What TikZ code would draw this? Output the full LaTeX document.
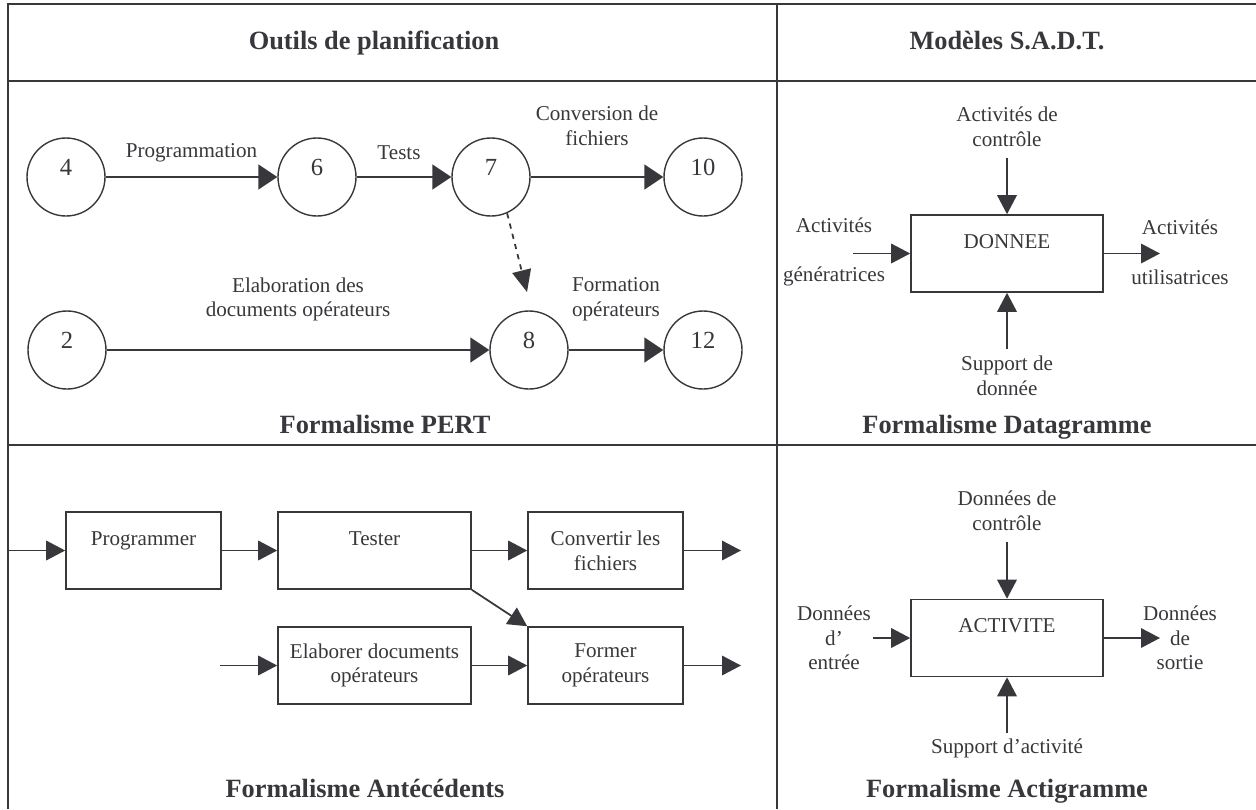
\documentclass[tikz,border=0pt]{standalone}
\usepackage{fontspec}
\setmainfont{Liberation Serif}
\usepackage{xcolor}
\usetikzlibrary{arrows.meta,positioning,calc}
\definecolor{ink}{HTML}{38383C}
\newcommand{\txtfont}{\fontsize{12}{14}\selectfont}
\newcommand{\ttlfont}{\fontsize{15}{18}\selectfont\bfseries}

\begin{document}
\begin{tikzpicture}[x=0.2mm, y=-0.2mm, >={Triangle[length=3.8mm,width=3.9mm]},
  every node/.style={text=ink, font=\txtfont, align=center},
  frame/.style={draw=ink, line width=1.1pt},
  evt/.style={circle, draw=ink, line width=0.8pt, minimum size=15.6mm, inner sep=0pt, text depth=4mm, font=\fontsize{14}{16}\selectfont},
  task/.style={draw=ink, line width=0.9pt, minimum height=15.4mm, inner sep=1pt},
  link/.style={->, draw=ink, line width=1pt},
  pert/.style={link, -{Triangle[length=3.8mm,width=5mm]}},
  lbl/.style={midway},
  ttl/.style={font=\ttlfont, anchor=base}]
\useasboundingbox (0,0) rectangle (1256,809);
\draw[frame] (8,809) -- (8,4) -- (1256,4);
\draw[frame] (8,81) -- (1256,81);
\draw[frame] (777,4) -- (777,809);
\draw[frame] (8,445) -- (833,445);
\draw[draw=ink, line width=0.6pt] (833,445) -- (1179,445);
\draw[frame] (1179,445) -- (1256,445);
\node[ttl] (hplan) at (374,49) {Outils de planification};
\node[ttl] (hsadt) at (1007,49) {Modèles S.A.D.T.};

\node[evt] (e4) at (66,177) {4};
\node[evt] (e6) at (317,177) {6};
\node[evt] (e7) at (491,177) {7};
\node[evt] (e10) at (703,177) {10};
\node[evt] (e2) at (67,350) {2};
\node[evt] (e8) at (529,350) {8};
\node[evt] (e12) at (703,350) {12};
\draw[pert] (e4) -- (e6) node[lbl, yshift=4.8mm] {Programmation};
\draw[pert] (e6) -- (e7) node[lbl, xshift=-1mm, yshift=4.8mm] {Tests};
\draw[pert] (e7) -- (e10) node[lbl, yshift=10.3mm] {Conversion de\\fichiers};
\draw[pert] (e2) -- (e8) node[lbl, yshift=10.1mm] {Elaboration des\\documents opérateurs};
\draw[pert] (e8) -- (e12) node[lbl, yshift=10.1mm] {Formation\\opérateurs};
\coordinate (d8) at (527,292);
\draw[link, dashed, -{Triangle[length=4.4mm,width=3.8mm]}] (e7.-66) -- (d8);
\node[ttl] (tpert) at (385,433) {Formalisme PERT};

\node[task, minimum width=38.4mm] (donnee) at (1007,253.5) {DONNEE\\~};
\coordinate (dc) at (1007,158);
\coordinate (ds) at (1007,349);
\coordinate (dg) at (853,253.5);
\coordinate (du) at (1160,253.5);
\draw[link] (dc) -- (donnee);
\draw[link] (ds) -- (donnee);
\draw[link] (dg) -- (donnee);
\draw[link] (donnee) -- (du);
\node (lctl) at (1007,126.5) {Activités de\\contrôle};
\node (lgen) at (834,252) {Activités\\[5mm]génératrices};
\node (lutil) at (1180,252) {Activités\\[5mm]utilisatrices};
\node (lsup) at (1007,375.5) {Support de\\donnée};
\node[ttl] (tdata) at (1007,433) {Formalisme Datagramme};

\node[task, minimum width=31mm] (prog) at (143.5,550.5) {Programmer\\~};
\node[task, minimum width=38.6mm] (test) at (374.5,550.5) {Tester\\~};
\node[task, minimum width=31mm] (conv) at (605.5,550.5) {Convertir les\\fichiers};
\node[task, minimum width=38.6mm] (elab) at (374.5,665.5) {Elaborer documents\\opérateurs};
\node[task, minimum width=31mm] (form) at (605.5,665.5) {Former\\opérateurs};
\coordinate (in1) at (8,550.5);
\coordinate (out1) at (741,550.5);
\coordinate (in2) at (220,665.5);
\coordinate (out2) at (741,665.5);
\draw[link] (in1) -- (prog);
\draw[link] (prog) -- (test);
\draw[link] (test) -- (conv);
\draw[link] (conv) -- (out1);
\draw[link] (test.south east) -- (form.north west);
\draw[link] (in2) -- (elab);
\draw[link] (elab) -- (form);
\draw[link] (form) -- (out2);
\node[ttl] (tante) at (365,797) {Formalisme Antécédents};

\node[task, minimum width=38.4mm] (activ) at (1007,638) {ACTIVITE\\~};
\coordinate (ac) at (1007,542);
\coordinate (as) at (1007,733);
\coordinate (ae) at (873,638);
\coordinate (ao) at (1160,638);
\draw[link] (ac) -- (activ);
\draw[link] (as) -- (activ);
\draw[link] (ae) -- (activ);
\draw[link] (activ) -- (ao);
\node (lac) at (1007,510.5) {Données de\\contrôle};
\node (lae) at (834,638) {Données\\d’\\entrée};
\node (lao) at (1180,638) {Données\\de\\sortie};
\node (las) at (1007,748) {Support d’activité};
\node[ttl] (tacti) at (1007,797) {Formalisme Actigramme};
\end{tikzpicture}
\end{document}
